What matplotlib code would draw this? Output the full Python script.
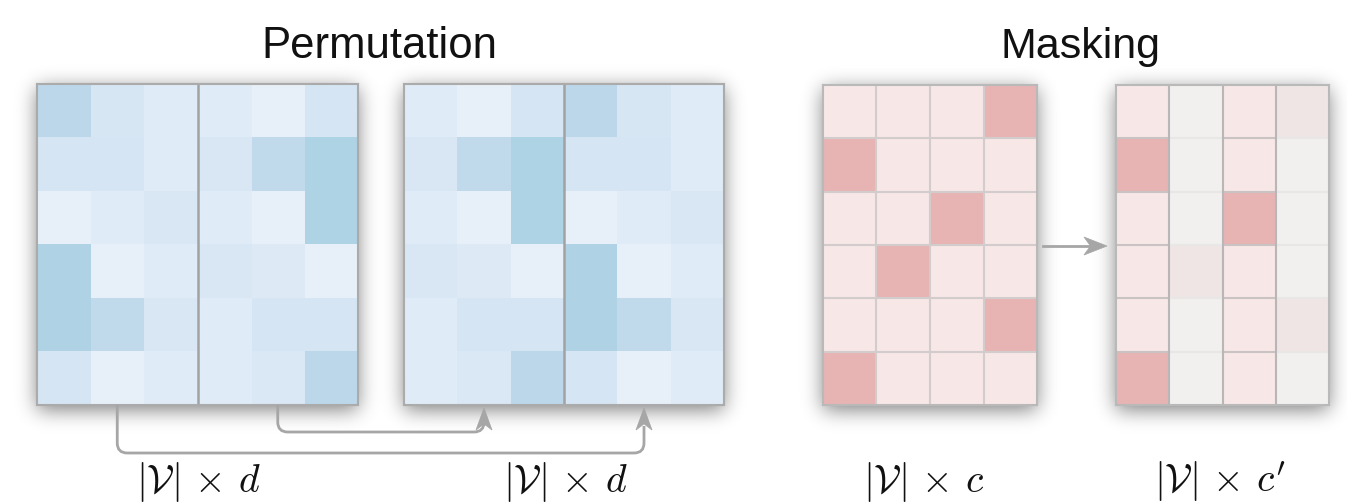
import numpy as np
import matplotlib
matplotlib.use("Agg")
import matplotlib.pyplot as plt
from matplotlib.colors import LinearSegmentedColormap, ListedColormap
from matplotlib.path import Path
from matplotlib.patches import PathPatch, Polygon

plt.rcParams['mathtext.fontset'] = 'cm'

# ---------------- data ----------------
# embedding matrix |V| x d (intensity 0..1), rows top->bottom
emb = np.array([
    [0.78, 0.35, 0.20, 0.20, 0.00, 0.40],
    [0.38, 0.40, 0.20, 0.30, 0.72, 1.00],
    [0.00, 0.20, 0.30, 0.20, 0.00, 1.00],
    [0.98, 0.00, 0.20, 0.30, 0.22, 0.00],
    [0.98, 0.72, 0.30, 0.20, 0.38, 0.38],
    [0.40, 0.00, 0.20, 0.20, 0.28, 0.78],
])
perm = [3, 4, 5, 0, 1, 2]          # column order of permuted matrix
arrow_cols = [1, 4]                 # source columns shown with connectors
# one-hot assignment |V| x c
assign = np.array([
    [0, 0, 0, 1],
    [1, 0, 0, 0],
    [0, 0, 1, 0],
    [0, 1, 0, 0],
    [0, 0, 0, 1],
    [1, 0, 0, 0],
])
masked_cols = [1, 3]
titles = ["Permutation", "Masking"]
labels = [r"$|\mathcal{V}|\,\times\,d$", r"$|\mathcal{V}|\,\times\,d$",
          r"$|\mathcal{V}|\,\times\,c$", r"$|\mathcal{V}|\,\times\,c'$"]

# ---------------- layout ----------------
W, H = 1347, 504
fig = plt.figure(figsize=(W / 100, H / 100), dpi=100)
fig.patch.set_facecolor("white")

rects = [(37, 84, 358, 405), (404, 84, 724, 405),
         (823, 85, 1037, 405), (1116, 85, 1329, 405)]

# shadow background
bg = fig.add_axes([0, 0, 1, 1], zorder=0)
bg.set_xlim(0, W); bg.set_ylim(H, 0); bg.axis("off")
mask = np.zeros((H, W))
for (x0, y0, x1, y1) in rects:
    mask[y0 + 4:y1 + 5, x0:x1] = 1.0
s = 10.0
kx = np.arange(-int(3 * s), int(3 * s) + 1)
k = np.exp(-0.5 * (kx / s) ** 2); k /= k.sum()
blur = np.apply_along_axis(lambda r: np.convolve(r, k, "same"), 1, mask)
blur = np.apply_along_axis(lambda c: np.convolve(c, k, "same"), 0, blur)
rgba = np.zeros((H, W, 4)); rgba[..., 3] = 0.5 * blur
bg.imshow(rgba, extent=(0, W, H, 0), interpolation="bilinear", aspect="auto")

def add_panel(r):
    x0, y0, x1, y1 = r
    return fig.add_axes([x0 / W, 1 - y1 / H, (x1 - x0) / W, (y1 - y0) / H], zorder=2)

blue_cmap = LinearSegmentedColormap.from_list(
    "blu", [(0.0, "#E7EFF8"), (0.2, "#DFEBF6"), (0.3, "#D9E7F4"),
            (0.4, "#D5E5F3"), (0.75, "#BFD8EB"), (1.0, "#AED3E5")])

for i, M in enumerate([emb, emb[:, perm]]):
    ax = add_panel(rects[i])
    ax.imshow(M, cmap=blue_cmap, vmin=0, vmax=1, aspect="auto", interpolation="nearest")
    ax.axvline(M.shape[1] / 2 - 0.5, color="#A2A2A2", lw=1.8)
    ax.set_xticks([]); ax.set_yticks([])
    for sp in ax.spines.values():
        sp.set_color("#ABABAB"); sp.set_linewidth(1.5)

red_cmap = ListedColormap(["#F8E7E7", "#E8B3B3", "#F1F0EF", "#EFE5E5"])
cat3 = assign.copy()
cat4 = assign.copy()
for c in masked_cols:
    cat4[:, c] = 2 + assign[:, c]
for j, C in enumerate([cat3, cat4]):
    ax = add_panel(rects[2 + j])
    ax.imshow(C, cmap=red_cmap, vmin=-0.5, vmax=3.5, aspect="auto", interpolation="nearest")
    nr, nc = C.shape
    if j == 0:
        for y in range(nr - 1):
            ax.axhline(y + 0.5, color="#D3CCCC", lw=1.5)
        for x in range(nc - 1):
            ax.axvline(x + 0.5, color="#D3CCCC", lw=1.5)
    else:
        for y in range(nr - 1):
            for x in range(nc):
                col = "#E9E6E6" if x in masked_cols else "#C9C3C3"
                ax.hlines(y + 0.5, x - 0.5, x + 0.5, color=col, lw=1.5)
        for x in range(nc - 1):
            ax.axvline(x + 0.5, color="#B8B6B6", lw=1.5)
    ax.set_xlim(-0.5, nc - 0.5); ax.set_ylim(nr - 0.5, -0.5)
    ax.set_xticks([]); ax.set_yticks([])
    for sp in ax.spines.values():
        sp.set_color("#B9B9B9"); sp.set_linewidth(1.5)

# foreground overlay
fg = fig.add_axes([0, 0, 1, 1], zorder=5)
fg.set_xlim(0, W); fg.set_ylim(H, 0); fg.axis("off"); fg.patch.set_alpha(0)

acol = "#A6A6A6"

def head_up(x, ytip, L=22, w=16):
    fg.add_patch(Polygon([(x, ytip), (x + w / 2, ytip + L), (x, ytip + 0.72 * L),
                          (x - w / 2, ytip + L)], closed=True, fc=acol, ec=acol, lw=0.5))

def head_right(xtip, y, L=23, w=18):
    fg.add_patch(Polygon([(xtip, y), (xtip - L, y - w / 2), (xtip - 0.72 * L, y),
                          (xtip - L, y + w / 2)], closed=True, fc=acol, ec=acol, lw=0.5))

def col_center(r, n, c):
    x0, _, x1, _ = r
    return x0 + (c + 0.5) * (x1 - x0) / n

ncol = emb.shape[1]
depth = {1: 453, 4: 432}
for c in arrow_cols:
    xs = col_center(rects[0], ncol, c)
    xt = col_center(rects[1], ncol, perm.index(c))
    yb = depth[c]
    ytop = rects[0][3]
    ytip = rects[1][3] + 3
    rr = 10
    verts = [(xs, ytop), (xs, yb - rr), (xs, yb), (xs + rr, yb),
             (xt - rr, yb), (xt, yb), (xt, yb - rr), (xt, ytip + 18)]
    codes = [Path.MOVETO, Path.LINETO, Path.CURVE3, Path.CURVE3,
             Path.LINETO, Path.CURVE3, Path.CURVE3, Path.LINETO]
    fg.add_patch(PathPatch(Path(verts, codes), fc="none", ec=acol, lw=2))
    head_up(xt, ytip)

ymid = (rects[2][1] + rects[2][3]) / 2 + 1
fg.plot([rects[2][2] + 6, rects[3][0] - 20], [ymid, ymid], color=acol, lw=2)
head_right(rects[3][0] - 9, ymid)

# titles
fg.text((rects[0][0] + rects[1][2]) / 2 - 1, 58, titles[0], ha="center", va="baseline",
        fontsize=31.5, family="Liberation Sans", color="#111111")
fg.text((rects[2][0] + rects[3][2]) / 2 + 4, 58, titles[1], ha="center", va="baseline",
        fontsize=31, family="Liberation Sans", color="#111111")

label_x = [198, 565, 924, 1220]
for lx, lab in zip(label_x, labels):
    fg.text(lx, 492, lab, ha="center", va="baseline", fontsize=28.5, color="#111111")

fig.savefig("out.png", dpi=100, facecolor="white")
